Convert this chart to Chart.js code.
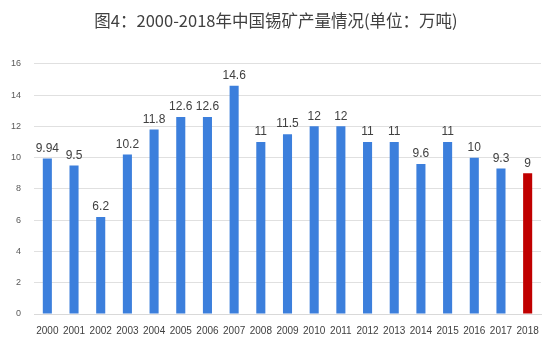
<!DOCTYPE html>
<html>
<head>
<meta charset="utf-8">
<script src="https://cdn.jsdelivr.net/npm/chart.js@4"></script>
<style>
  html, body { margin: 0; padding: 0; background: #fff; }
  #wrap { width: 557px; height: 342px; }
</style>
</head>
<body>
<div id="wrap"><canvas id="tinChart"></canvas></div>
<script>
const years = ['2000', '2001', '2002', '2003', '2004', '2005', '2006', '2007', '2008', '2009',
    '2010', '2011', '2012', '2013', '2014', '2015', '2016', '2017', '2018'];
const output = [9.94, 9.5, 6.2, 10.2, 11.8, 12.6, 12.6, 14.6, 11, 11.5, 12, 12, 11, 11, 9.6, 11, 10, 9.3, 9];
const barColors = years.map(y => y === '2018' ? '#c00000' : '#3c7fdc');

// value labels above bars
const valueLabels = {
    id: 'valueLabels',
    afterDatasetsDraw(chart) {
        const ctx = chart.ctx;
        const meta = chart.getDatasetMeta(0);
        ctx.save();
        ctx.font = '12px "Liberation Sans", Arial, sans-serif';
        ctx.fillStyle = '#404040';
        ctx.textAlign = 'center';
        ctx.textBaseline = 'bottom';
        meta.data.forEach((bar, i) => {
            ctx.fillText(String(output[i]), bar.x, bar.y - 4);
        });
        ctx.restore();
    }
};

const ctx = document.getElementById('tinChart').getContext('2d');
new Chart(ctx, {
    type: 'bar',
    data: {
        labels: years,
        datasets: [{
            data: output,
            backgroundColor: barColors,
            barPercentage: 0.68,
            categoryPercentage: 0.5
        }]
    },
    plugins: [valueLabels],
    options: {
        responsive: true,
        maintainAspectRatio: false,
        animation: false,
        layout: { padding: { left: 11, right: 16, top: 4, bottom: 2 } },
        plugins: {
            legend: { display: false },
            tooltip: { enabled: false },
            title: {
                display: true,
                text: '图4：2000-2018年中国锡矿产量情况(单位：万吨)',
                color: '#404040',
                font: { size: 16.5, family: '"Noto Sans CJK SC", sans-serif', weight: 'normal' },
                padding: { top: 7, bottom: 33 }
            }
        },
        scales: {
            x: {
                grid: { display: false },
                border: { color: '#d9d9d9' },
                ticks: {
                    color: '#404040',
                    font: { size: 10, family: '"Liberation Sans", Arial, sans-serif' },
                    maxRotation: 0,
                    autoSkip: false
                }
            },
            y: {
                min: 0,
                max: 16,
                afterFit(axis) { axis.width = 23; },
                grid: { color: '#e0e0e0', drawTicks: false },
                border: { display: false },
                ticks: {
                    stepSize: 2,
                    padding: 13,
                    color: '#595959',
                    font: { size: 9, family: '"Liberation Sans", Arial, sans-serif' }
                }
            }
        }
    }
});
</script>
</body>
</html>
